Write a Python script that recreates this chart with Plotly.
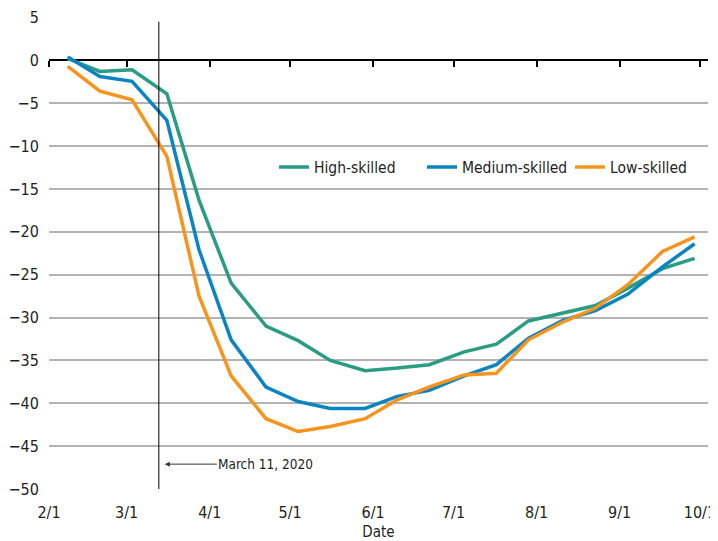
import plotly.graph_objects as go

# ---- data ----
dates = ["2020-02-08", "2020-02-20", "2020-03-03", "2020-03-16", "2020-03-28",
         "2020-04-09", "2020-04-22", "2020-05-04", "2020-05-16", "2020-05-29",
         "2020-06-10", "2020-06-22", "2020-07-05", "2020-07-17", "2020-07-29",
         "2020-08-11", "2020-08-23", "2020-09-04", "2020-09-17", "2020-09-29"]

high_skilled = [0.2, -1.3, -1.1, -3.9, -16.3, -26.0, -31.0, -32.7, -35.0, -36.2,
                -35.9, -35.5, -34.0, -33.1, -30.4, -29.5, -28.6, -26.6, -24.3, -23.1]
medium_skilled = [0.4, -1.9, -2.45, -7.0, -22.1, -32.6, -38.1, -39.8, -40.6, -40.6,
                  -39.2, -38.5, -36.8, -35.5, -32.4, -30.3, -29.2, -27.3, -24.1, -21.4]
low_skilled = [-0.7, -3.6, -4.6, -11.2, -27.5, -36.8, -41.8, -43.3, -42.7, -41.8,
               -39.6, -38.1, -36.7, -36.5, -32.6, -30.5, -28.9, -26.2, -22.3, -20.6]

series_names = ["High-skilled", "Medium-skilled", "Low-skilled"]
series_colors = ["#2a9c84", "#0b84c2", "#f7941d"]

tick_dates = ["2020-02-01", "2020-03-01", "2020-04-01", "2020-05-01", "2020-06-01",
              "2020-07-01", "2020-08-01", "2020-09-01", "2020-10-01"]
tick_labels = ["2/1", "3/1", "4/1", "5/1", "6/1", "7/1", "8/1", "9/1", "10/1"]
y_ticks = [5, 0, -5, -10, -15, -20, -25, -30, -35, -40, -45, -50]

event_date = "2020-03-13"
event_label = "March 11, 2020"
event_line_y = [-50, 4.5]
event_label_y = -47.1

x_range = ["2020-02-01", "2020-10-04"]
y_range = [-50, 5.05]

FONT = "Liberation Sans Narrow, DejaVu Sans Condensed, Arial Narrow, sans-serif"

fig = go.Figure()

for name, vals, col in zip(series_names, [high_skilled, medium_skilled, low_skilled], series_colors):
    fig.add_trace(go.Scatter(x=dates, y=vals, mode="lines", name=name,
                             line=dict(color=col, width=3.5)))

# vertical event line
fig.add_trace(go.Scatter(x=[event_date, event_date], y=event_line_y, mode="lines",
                         line=dict(color="black", width=1), showlegend=False,
                         hoverinfo="skip"))

# invisible trace to activate the zero-line axis with ticks
fig.add_trace(go.Scatter(x=[dates[0]], y=[0], xaxis="x2", mode="markers",
                         marker=dict(opacity=0), showlegend=False, hoverinfo="skip"))

fig.add_annotation(x=event_date, y=event_label_y, text=event_label,
                   showarrow=True, arrowhead=2, arrowsize=1, arrowwidth=1,
                   arrowcolor="#333", axref="pixel", ayref="pixel", ax=107, ay=0,
                   font=dict(family=FONT, size=13.5, color="#231f20"),
                   standoff=6)

# page body has an 8px default margin, so the figure is sized 710x533
fig.update_layout(
    width=710, height=533,
    margin=dict(l=41, r=10, t=9, b=52, autoexpand=False),
    paper_bgcolor="white", plot_bgcolor="white",
    font=dict(family=FONT, size=16, color="#231f20"),
    showlegend=True,
    legend=dict(orientation="h", x=(274 - 49) / 659, xanchor="left",
                y=(-12.5 - y_range[0]) / (y_range[1] - y_range[0]), yanchor="middle",
                bgcolor="rgba(0,0,0,0)", font=dict(family=FONT, size=15.5, color="#231f20"),
                itemwidth=30, tracegroupgap=0, entrywidth=103, entrywidthmode="pixels"),
    xaxis=dict(type="date", range=x_range, tickvals=tick_dates, ticktext=tick_labels,
               showgrid=False, showline=False, zeroline=False,
               ticks="outside", ticklen=9, tickcolor="rgba(0,0,0,0)",
               automargin=False,
               title=dict(text="Date", font=dict(size=15), standoff=5),
               tickfont=dict(size=16)),
    xaxis2=dict(type="date", range=x_range, overlaying="x", matches="x",
                anchor="free", position=(0 - y_range[0]) / (y_range[1] - y_range[0]),
                side="bottom", tickvals=tick_dates, showticklabels=False,
                showline=True, linecolor="black", linewidth=1.5,
                ticks="outside", ticklen=6, tickwidth=1.5, tickcolor="black",
                showgrid=False, zeroline=False, layer="below traces",
                automargin=False),
    yaxis=dict(range=y_range, tickvals=y_ticks, showgrid=True, gridcolor="#b3b3b3",
               gridwidth=2, zeroline=False, showline=False, automargin=False,
               ticks="outside", ticklen=6, tickcolor="rgba(0,0,0,0)",
               tickfont=dict(size=16)),
)

fig.write_html("out.html")
